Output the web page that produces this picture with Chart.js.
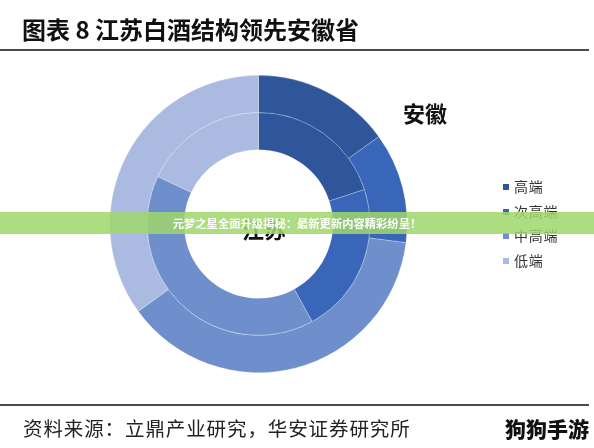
<!DOCTYPE html>
<html>
<head>
<meta charset="utf-8">
<script src="https://cdn.jsdelivr.net/npm/chart.js@4/dist/chart.umd.min.js"></script>
<style>
  html,body{margin:0;padding:0;background:#fff;}
  #wrap{position:relative;width:594px;height:448px;overflow:hidden;background:#fff;font-family:"Noto Sans CJK SC","Noto Sans",sans-serif;}
  #c{position:absolute;left:0;top:0;}
  .t{position:absolute;white-space:nowrap;line-height:1;}
  .rule{position:absolute;left:0;width:589px;height:2px;background:#4a4a4a;}
  #legend{position:absolute;left:503px;top:176px;}
  .li{position:relative;height:24.5px;}
  .sw{position:absolute;left:0;top:8px;width:6px;height:6px;}
  .lt{position:absolute;left:11px;top:3px;font-size:14px;line-height:1;color:#333;letter-spacing:0.8px;white-space:nowrap;}
  #banner{position:absolute;left:0;top:212px;width:594px;height:22px;background:rgba(160,214,108,0.86);}
  #btext{position:absolute;left:0;top:212px;width:594px;height:22px;line-height:22px;text-align:center;color:#fff;font-weight:700;font-size:11.3px;}
</style>
</head>
<body>
<div id="wrap">
  <canvas id="c" width="594" height="448"></canvas>
  <div class="t" id="title" style="left:22px;top:17px;font-size:24px;font-weight:700;color:#111;">图表 8 江苏白酒结构领先安徽省</div>
  <div class="rule" style="top:49px;"></div>
  <div class="t" id="lblOuter" style="left:403px;top:101px;font-size:22px;font-weight:700;color:#111;"></div>
  <div class="t" id="lblInner" style="left:242px;top:217px;font-size:22px;font-weight:700;color:#111;"></div>
  <div id="legend"></div>
  <div class="rule" style="top:404px;"></div>
  <div class="t" style="left:23px;top:418px;font-size:19.5px;color:#222;letter-spacing:0.9px;">资料来源：立鼎产业研究，华安证券研究所</div>
  <div id="banner"></div>
  <div id="btext">元梦之星全面升级揭秘：最新更新内容精彩纷呈！</div>
  <div class="t" style="left:505px;top:418px;font-size:21px;font-weight:900;color:#111;">狗狗手游</div>
</div>
<script>
const categories = ["高端", "次高端", "中高端", "低端"];
const seriesNames = ["安徽", "江苏"];
const anhuiValues = [15, 12, 38, 35];
const jiangsuValues = [20, 22, 40, 18];
const colors = ["#2F559A", "#3966B8", "#6F8FCC", "#ABBAE0"];

document.getElementById('lblOuter').textContent = seriesNames[0];
document.getElementById('lblInner').textContent = seriesNames[1];

const legend = document.getElementById('legend');
categories.forEach((c, i) => {
  const row = document.createElement('div');
  row.className = 'li';
  const sw = document.createElement('div');
  sw.className = 'sw';
  sw.style.background = colors[i];
  const lt = document.createElement('div');
  lt.className = 'lt';
  lt.textContent = c;
  row.appendChild(sw); row.appendChild(lt);
  legend.appendChild(row);
});

new Chart(document.getElementById('c'), {
  type: 'doughnut',
  data: {
    labels: categories,
    datasets: [
      { label: seriesNames[0], data: anhuiValues, backgroundColor: colors, borderColor: 'rgba(255,255,255,0.35)', borderWidth: 0.7 },
      { label: seriesNames[1], data: jiangsuValues, backgroundColor: colors, borderColor: 'rgba(255,255,255,0.35)', borderWidth: 0.7 }
    ]
  },
  options: {
    responsive: false,
    animation: false,
    cutout: '50%',
    layout: { padding: { left: 109.5, right: 186.5, top: 75, bottom: 75 } },
    plugins: { legend: { display: false }, tooltip: { enabled: false } },
    events: []
  }
});
</script>
</body>
</html>
